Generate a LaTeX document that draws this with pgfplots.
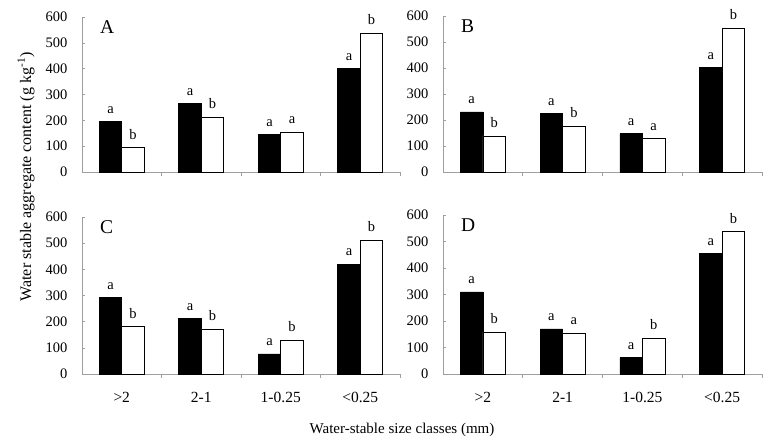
\documentclass[border=0pt]{standalone}
\usepackage{pgfplots}
\pgfplotsset{compat=1.18}
\usepackage{fontspec}
\setmainfont{Liberation Serif}
\tikzset{plab/.style={anchor=north west, inner sep=0pt, font=\fontsize{19.5}{20}\selectfont, xshift=18pt, yshift=-3.5pt}}
\pgfplotsset{
  panel/.style={
    scale only axis, width=318pt,
    xmin=-0.5, xmax=3.5, ymin=0, ymax=600,
    axis lines*=left,
    axis line style={gray!75, line width=0.7pt},
    ytick={0,100,...,600},
    ytick align=inside,
    major y tick style={gray!75, line width=0.6pt},
    major tick length=3pt,
    xtick={0,1,2,3},
    minor xtick={0.5,1.5,2.5,3.5},
    major x tick style={draw=none},
    minor x tick style={gray!75, line width=0.6pt},
    xtick align=outside,
    minor tick length=4pt,
    yticklabel style={font=\fontsize{14.5}{15}\selectfont, xshift=-11pt},
    xticklabel style={font=\fontsize{15.5}{16}\selectfont, yshift=-12pt},
    /pgf/number format/assume math mode=true,
    clip=false,
    anchor=south west,
  },
  blk/.style={ybar, bar width=0.283, bar shift=-0.1415, fill=black, draw=black, line width=0.6pt,
    nodes near coords, point meta=explicit symbolic,
    every node near coord/.append style={font=\fontsize{14.5}{15}\selectfont, black, yshift=4.5pt, xshift=-11.25pt}},
  wht/.style={ybar, bar width=0.283, bar shift=0.1415, fill=white, draw=black, line width=0.6pt,
    nodes near coords, point meta=explicit symbolic,
    every node near coord/.append style={font=\fontsize{14.5}{15}\selectfont, black, yshift=4.5pt, xshift=11.25pt}},
}
\begin{document}
\begin{tikzpicture}
\path[use as bounding box] (0,0) rectangle (770pt,441pt);
% A
\begin{axis}[panel, at={(82pt,269pt)}, height=155pt, xticklabels={}]
\addplot[blk] coordinates {(0,196)[a] (1,265)[a] (2,145)[a] (3,400)[a]};
\addplot[wht] coordinates {(0,95)[b] (1,212)[b] (2,155)[a] (3,538)[b]};
\node[plab] at (rel axis cs:0,1) {A};
\end{axis}
% B
\begin{axis}[panel, at={(443pt,269pt)}, height=156pt, width=319pt, xticklabels={}]
\addplot[blk] coordinates {(0,231)[a] (1,225)[a] (2,148)[a] (3,402)[a]};
\addplot[wht] coordinates {(0,139)[b] (1,176)[b] (2,128)[a] (3,553)[b]};
\node[plab] at (rel axis cs:0,1) {B};
\end{axis}
% C
\begin{axis}[panel, at={(82pt,67pt)}, height=157pt, xticklabels={>2,2-1,1-0.25,<0.25}]
\addplot[blk] coordinates {(0,292)[a] (1,212)[a] (2,77)[a] (3,420)[a]};
\addplot[wht] coordinates {(0,181)[b] (1,172)[b] (2,130)[b] (3,512)[b]};
\node[plab] at (rel axis cs:0,1) {C};
\end{axis}
% D
\begin{axis}[panel, at={(443pt,67pt)}, height=159pt, width=319pt, xticklabels={>2,2-1,1-0.25,<0.25}]
\addplot[blk] coordinates {(0,310)[a] (1,170)[a] (2,62)[a] (3,455)[a]};
\addplot[wht] coordinates {(0,158)[b] (1,155)[a] (2,136)[b] (3,538)[b]};
\node[plab] at (rel axis cs:0,1) {D};
\end{axis}
\node[rotate=90, font=\fontsize{16}{16}\selectfont] at (26pt,264pt) {Water stable aggregate content (g kg\textsuperscript{-1})};
\node[font=\fontsize{15}{15}\selectfont] at (402pt,11pt) {Water-stable size classes (mm)};
\end{tikzpicture}
\end{document}
